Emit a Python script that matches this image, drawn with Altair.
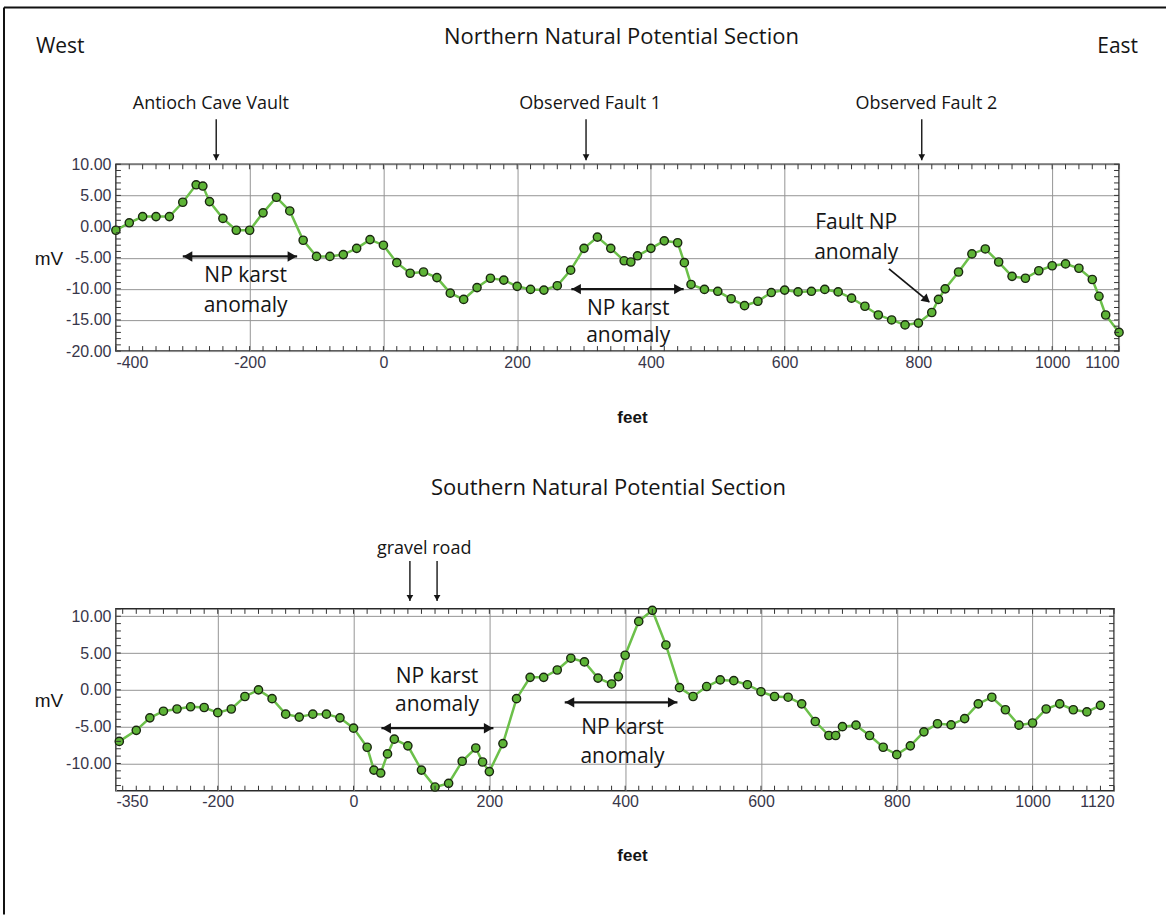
import altair as alt
import pandas as pd

# ---------------- profile data: station (feet) vs natural potential (mV) ----------------
north_ft = [-400, -380, -360, -340, -320, -300, -280, -270, -260, -240, -220, -200, -180, -160,
            -140, -120, -100, -80, -60, -40, -20, 0, 20, 40, 60, 80, 100, 120, 140, 160, 180,
            200, 220, 240, 260, 280, 300, 320, 340, 360, 370, 380, 400, 420, 440, 450, 460, 480,
            500, 520, 540, 560, 580, 600, 620, 640, 660, 680, 700, 720, 740, 760, 780, 800, 820,
            830, 840, 860, 880, 900, 920, 940, 960, 980, 1000, 1020, 1040, 1060, 1070, 1080, 1100]
north_mv = [-0.6, 0.6, 1.6, 1.6, 1.6, 3.9, 6.7, 6.5, 4.0, 1.3, -0.6, -0.6, 2.2, 4.7,
            2.5, -2.2, -4.8, -4.8, -4.5, -3.5, -2.1, -3.0, -5.8, -7.5, -7.3, -8.2, -10.7, -11.7, -9.8, -8.3, -8.6,
            -9.6, -10.1, -10.2, -9.5, -7.0, -3.5, -1.7, -3.5, -5.5, -5.7, -4.7, -3.5, -2.3, -2.6, -5.8, -9.3, -10.1,
            -10.4, -11.6, -12.7, -12.0, -10.6, -10.2, -10.5, -10.4, -10.1, -10.5, -11.5, -12.8, -14.2, -15.0, -15.8, -15.5, -13.8,
            -11.7, -10.0, -7.3, -4.4, -3.6, -5.7, -8.0, -8.3, -7.1, -6.3, -6.0, -6.7, -8.5, -11.2, -14.2, -17.0]

south_ft = [-345, -320, -300, -280, -260, -240, -220, -200, -180, -160, -140, -120, -100, -80, -60, -40, -20,
            0, 20, 30, 40, 50, 60, 80, 100, 120, 140, 160, 180, 190, 200, 220, 240, 260, 280, 300, 320, 340,
            360, 380, 390, 400, 420, 440, 460, 480, 500, 520, 540, 560, 580, 600, 620, 640, 660, 680, 700,
            710, 720, 740, 760, 780, 800, 820, 840, 860, 880, 900, 920, 940, 960, 980, 1000, 1020, 1040,
            1060, 1080, 1100]
south_mv = [-7.0, -5.5, -3.8, -2.9, -2.6, -2.3, -2.4, -3.1, -2.6, -0.9, 0.0, -1.2, -3.3, -3.7, -3.3, -3.3, -3.8,
            -5.2, -7.8, -10.9, -11.3, -8.7, -6.7, -7.6, -10.9, -13.2, -12.7, -9.7, -7.9, -9.8, -11.1, -7.3, -1.2, 1.7, 1.7, 2.7, 4.3, 3.8,
            1.6, 0.8, 1.8, 4.7, 9.3, 10.8, 6.1, 0.3, -0.9, 0.45, 1.35, 1.25, 0.7, -0.25, -0.9, -1.0, -1.9, -4.3, -6.2,
            -6.2, -5.0, -4.8, -6.2, -7.8, -8.8, -7.6, -5.7, -4.6, -4.75, -3.9, -1.9, -1.0, -2.7, -4.8, -4.5, -2.6, -1.9,
            -2.7, -3.0, -2.1]

# ---------------- axes ----------------
north_x_domain = [-400, 1100]
north_y_domain = [-20, 10]
south_x_domain = [-350, 1120]
south_y_domain = [-13.7, 11]
north_x_ticks = [-400, -200, 0, 200, 400, 600, 800, 1000, 1100]
south_x_ticks = [-350, -200, 0, 200, 400, 600, 800, 1000, 1120]
north_y_ticks = [-20, -15, -10, -5, 0, 5, 10]
south_y_ticks = [-10, -5, 0, 5, 10]
north_minor_x = list(range(-400, 1101, 20))
north_minor_y = list(range(-20, 11))
south_minor_x = list(range(-340, 1121, 20))
south_minor_y = list(range(-13, 12))

# ---------------- annotations ----------------
north_feature_names = ["Antioch Cave Vault", "Observed Fault 1", "Observed Fault 2"]
north_feature_ft = [-250, 303, 805]
north_feature_label_ft = [-258, 309, 812]
south_feature_names = ["gravel road"]
south_feature_ft = [83, 123]
south_feature_label_ft = [104]

north_span_start = [-300, 281]
north_span_end = [-129, 449]
north_span_mv = [-4.8, -10.05]
north_span_label_ft = [-206, -206, 366, 366]
north_span_label_mv = [-7.9, -12.7, -13.2, -17.5]
north_span_label_txt = ["NP karst", "anomaly", "NP karst", "anomaly"]

fault_label_ft = [707, 707]
fault_label_mv = [0.5, -4.2]
fault_label_txt = ["Fault NP", "anomaly"]
fault_arrow_ft = [756, 816]
fault_arrow_mv = [-6.8, -12.1]

south_span_start = [41, 311]
south_span_end = [206, 477]
south_span_mv = [-5.2, -1.7]
south_span_label_ft = [123, 123, 396, 396]
south_span_label_mv = [1.8, -2.1, -5.2, -9.1]
south_span_label_txt = ["NP karst", "anomaly", "NP karst", "anomaly"]

# ---------------- styling ----------------
W1, H1 = 1004, 187
W2, H2 = 999, 182
FONT = "Open Sans"
TICK_FONT = "Liberation Sans"
TICK_COLOR = "#38364a"
INK = "#151515"
LINE_GREEN = "#6cc04a"
DOT_GREEN = "#5db336"
DOT_EDGE = "#1a2610"
GRID = "#959595"
# plain hyphen for negative tick labels
HYPHEN = "replace(datum.label, '\u2212', '-')"


def x_axis(vals):
    return alt.Axis(values=vals, labelFlush=True, labelOverlap=False, grid=True, gridColor=GRID,
                    gridWidth=1, ticks=False, domain=False, labelFont=TICK_FONT, labelFontSize=16,
                    labelColor=TICK_COLOR, labelPadding=3, title=None, format="d", labelExpr=HYPHEN)


def y_axis(vals):
    return alt.Axis(values=vals, labelOverlap=False, grid=True, gridColor=GRID, gridWidth=1,
                    ticks=False, domain=False, labelFont=TICK_FONT, labelFontSize=16,
                    labelColor=TICK_COLOR, labelPadding=5, title=None, format=".2f", labelExpr=HYPHEN)


def xe(field, dom, vals):
    return alt.X(field, type="quantitative", scale=alt.Scale(domain=dom, nice=False, zero=False),
                 axis=x_axis(vals))


def ye(field, dom, vals):
    return alt.Y(field, type="quantitative", scale=alt.Scale(domain=dom, nice=False, zero=False),
                 axis=y_axis(vals))


ONE = alt.Data(values=[{}])


def pix_text(txt, x, y, size, align="center", font=FONT, weight="normal"):
    return alt.Chart(ONE).mark_text(text=txt, font=font, fontSize=size, fontWeight=weight,
                                    align=align, baseline="middle", color=INK).encode(
        x=alt.value(x), y=alt.value(y))


def section(ft, mv, xdom, ydom, xv, yv, minor_x, minor_y, W, H):
    X = lambda f: xe(f, xdom, xv)
    Y = lambda f: ye(f, ydom, yv)
    df = pd.DataFrame({"ft": ft, "mv": mv})
    line = alt.Chart(df).mark_line(color=LINE_GREEN, strokeWidth=2.5).encode(x=X("ft"), y=Y("mv"))
    pts = alt.Chart(df).mark_point(shape="circle", filled=True, size=68, fill=DOT_GREEN,
                                   stroke=DOT_EDGE, strokeWidth=1.4, opacity=1).encode(
        x=X("ft"), y=Y("mv"))
    mx = pd.DataFrame({"t": minor_x})
    my = pd.DataFrame({"t": minor_y})
    tick = dict(color="#333333", strokeWidth=1)
    ticks = [
        alt.Chart(mx).mark_rule(**tick).encode(x=X("t"), y=alt.value(H), y2=alt.value(H - 5)),
        alt.Chart(mx).mark_rule(**tick).encode(x=X("t"), y=alt.value(0), y2=alt.value(5)),
        alt.Chart(my).mark_rule(**tick).encode(y=Y("t"), x=alt.value(0), x2=alt.value(5)),
        alt.Chart(my).mark_rule(**tick).encode(y=Y("t"), x=alt.value(W), x2=alt.value(W - 5)),
    ]
    return X, Y, [line, pts] + ticks


def span_arrows(starts, ends, levels, X, Y):
    df = pd.DataFrame({"a": starts, "b": ends, "mv": levels})
    shaft = alt.Chart(df).mark_rule(color=INK, strokeWidth=2.2).encode(
        x=X("a"), x2="b", y=Y("mv"))
    left = alt.Chart(df).mark_point(shape="triangle-left", filled=True, size=110, color=INK,
                                    opacity=1, xOffset=5).encode(x=X("a"), y=Y("mv"))
    right = alt.Chart(df).mark_point(shape="triangle-right", filled=True, size=110, color=INK,
                                     opacity=1, xOffset=-5).encode(x=X("b"), y=Y("mv"))
    return [shaft, left, right]


def text_rows(fts, mvs, txts, X, Y, size=21):
    df = pd.DataFrame({"ft": fts, "mv": mvs, "txt": txts})
    return alt.Chart(df).mark_text(font=FONT, fontSize=size, color=INK, baseline="middle").encode(
        x=X("ft"), y=Y("mv"), text="txt:N")


def down_arrows(fts, y_top, y_bot, X):
    df = pd.DataFrame({"ft": fts})
    shaft = alt.Chart(df).mark_rule(color=INK, strokeWidth=1.4).encode(
        x=X("ft"), y=alt.value(y_top), y2=alt.value(y_bot))
    head = alt.Chart(df).mark_point(shape="triangle-down", filled=True, size=45, color=INK,
                                    opacity=1).encode(x=X("ft"), y=alt.value(y_bot - 3))
    return [shaft, head]


# ---------------- northern section ----------------
nX, nY, north_layers = section(north_ft, north_mv, north_x_domain, north_y_domain, north_x_ticks,
                               north_y_ticks, north_minor_x, north_minor_y, W1, H1)
north_layers += span_arrows(north_span_start, north_span_end, north_span_mv, nX, nY)
north_layers.append(text_rows(north_span_label_ft, north_span_label_mv, north_span_label_txt, nX, nY))
north_layers.append(text_rows(fault_label_ft, fault_label_mv, fault_label_txt, nX, nY))

fault_df = pd.DataFrame({"ft": [fault_arrow_ft[0]], "ft2": [fault_arrow_ft[1]],
                         "mv": [fault_arrow_mv[0]], "mv2": [fault_arrow_mv[1]]})
north_layers.append(alt.Chart(fault_df).mark_rule(color=INK, strokeWidth=1.8).encode(
    x=nX("ft"), x2="ft2", y=nY("mv"), y2="mv2"))
north_layers.append(alt.Chart(fault_df).mark_point(shape="triangle", filled=True, size=90, color=INK,
                                                   opacity=1, angle=130, xOffset=-3.5, yOffset=-3).encode(
    x=nX("ft2"), y=nY("mv2")))

feat_df = pd.DataFrame({"ft": north_feature_label_ft, "txt": north_feature_names})
north_layers.append(alt.Chart(feat_df).mark_text(font=FONT, fontSize=18, color=INK, baseline="middle").encode(
    x=nX("ft"), y=alt.value(-60), text="txt:N"))
north_layers += down_arrows(north_feature_ft, -45, -4, nX)

north_layers += [
    pix_text("Northern Natural Potential Section", 506, -127, 22),
    pix_text("West", -80, -117, 21, align="left"),
    pix_text("East", 1023, -117, 21, align="right"),
    pix_text("mV", -67, 95, 19, font=TICK_FONT),
    pix_text("feet", 517, 254, 17, font=TICK_FONT, weight="bold"),
    # page frame (top and left edges)
    alt.Chart(ONE).mark_rule(color="#111111", strokeWidth=2).encode(
        x=alt.value(-112), y=alt.value(-157), y2=alt.value(751)),
    alt.Chart(ONE).mark_rule(color="#111111", strokeWidth=2).encode(
        x=alt.value(-112), x2=alt.value(1051), y=alt.value(-157)),
]
north = alt.layer(*north_layers).properties(width=W1, height=H1)

# ---------------- southern section ----------------
sX, sY, south_layers = section(south_ft, south_mv, south_x_domain, south_y_domain, south_x_ticks,
                               south_y_ticks, south_minor_x, south_minor_y, W2, H2)
south_layers += span_arrows(south_span_start, south_span_end, south_span_mv, sX, sY)
south_layers.append(text_rows(south_span_label_ft, south_span_label_mv, south_span_label_txt, sX, sY))
road_df = pd.DataFrame({"ft": south_feature_label_ft, "txt": south_feature_names})
south_layers.append(alt.Chart(road_df).mark_text(font=FONT, fontSize=18, color=INK, baseline="middle").encode(
    x=sX("ft"), y=alt.value(-60), text="txt:N"))
south_layers += down_arrows(south_feature_ft, -48, -8, sX)
south_layers += [
    pix_text("Southern Natural Potential Section", 493, -121, 22),
    pix_text("mV", -67, 92, 19, font=TICK_FONT),
    pix_text("feet", 517, 247, 17, font=TICK_FONT, weight="bold"),
]
south = alt.layer(*south_layers).properties(width=W2, height=H2)

chart = alt.vconcat(north, south, spacing=258, bounds="flush").properties(
    padding={"left": 2, "top": 5, "right": 0, "bottom": 0}
).configure_view(stroke="#2a2a2a", strokeWidth=1.5)

chart.save("out.html", embed_options={"renderer": "svg", "actions": False})
